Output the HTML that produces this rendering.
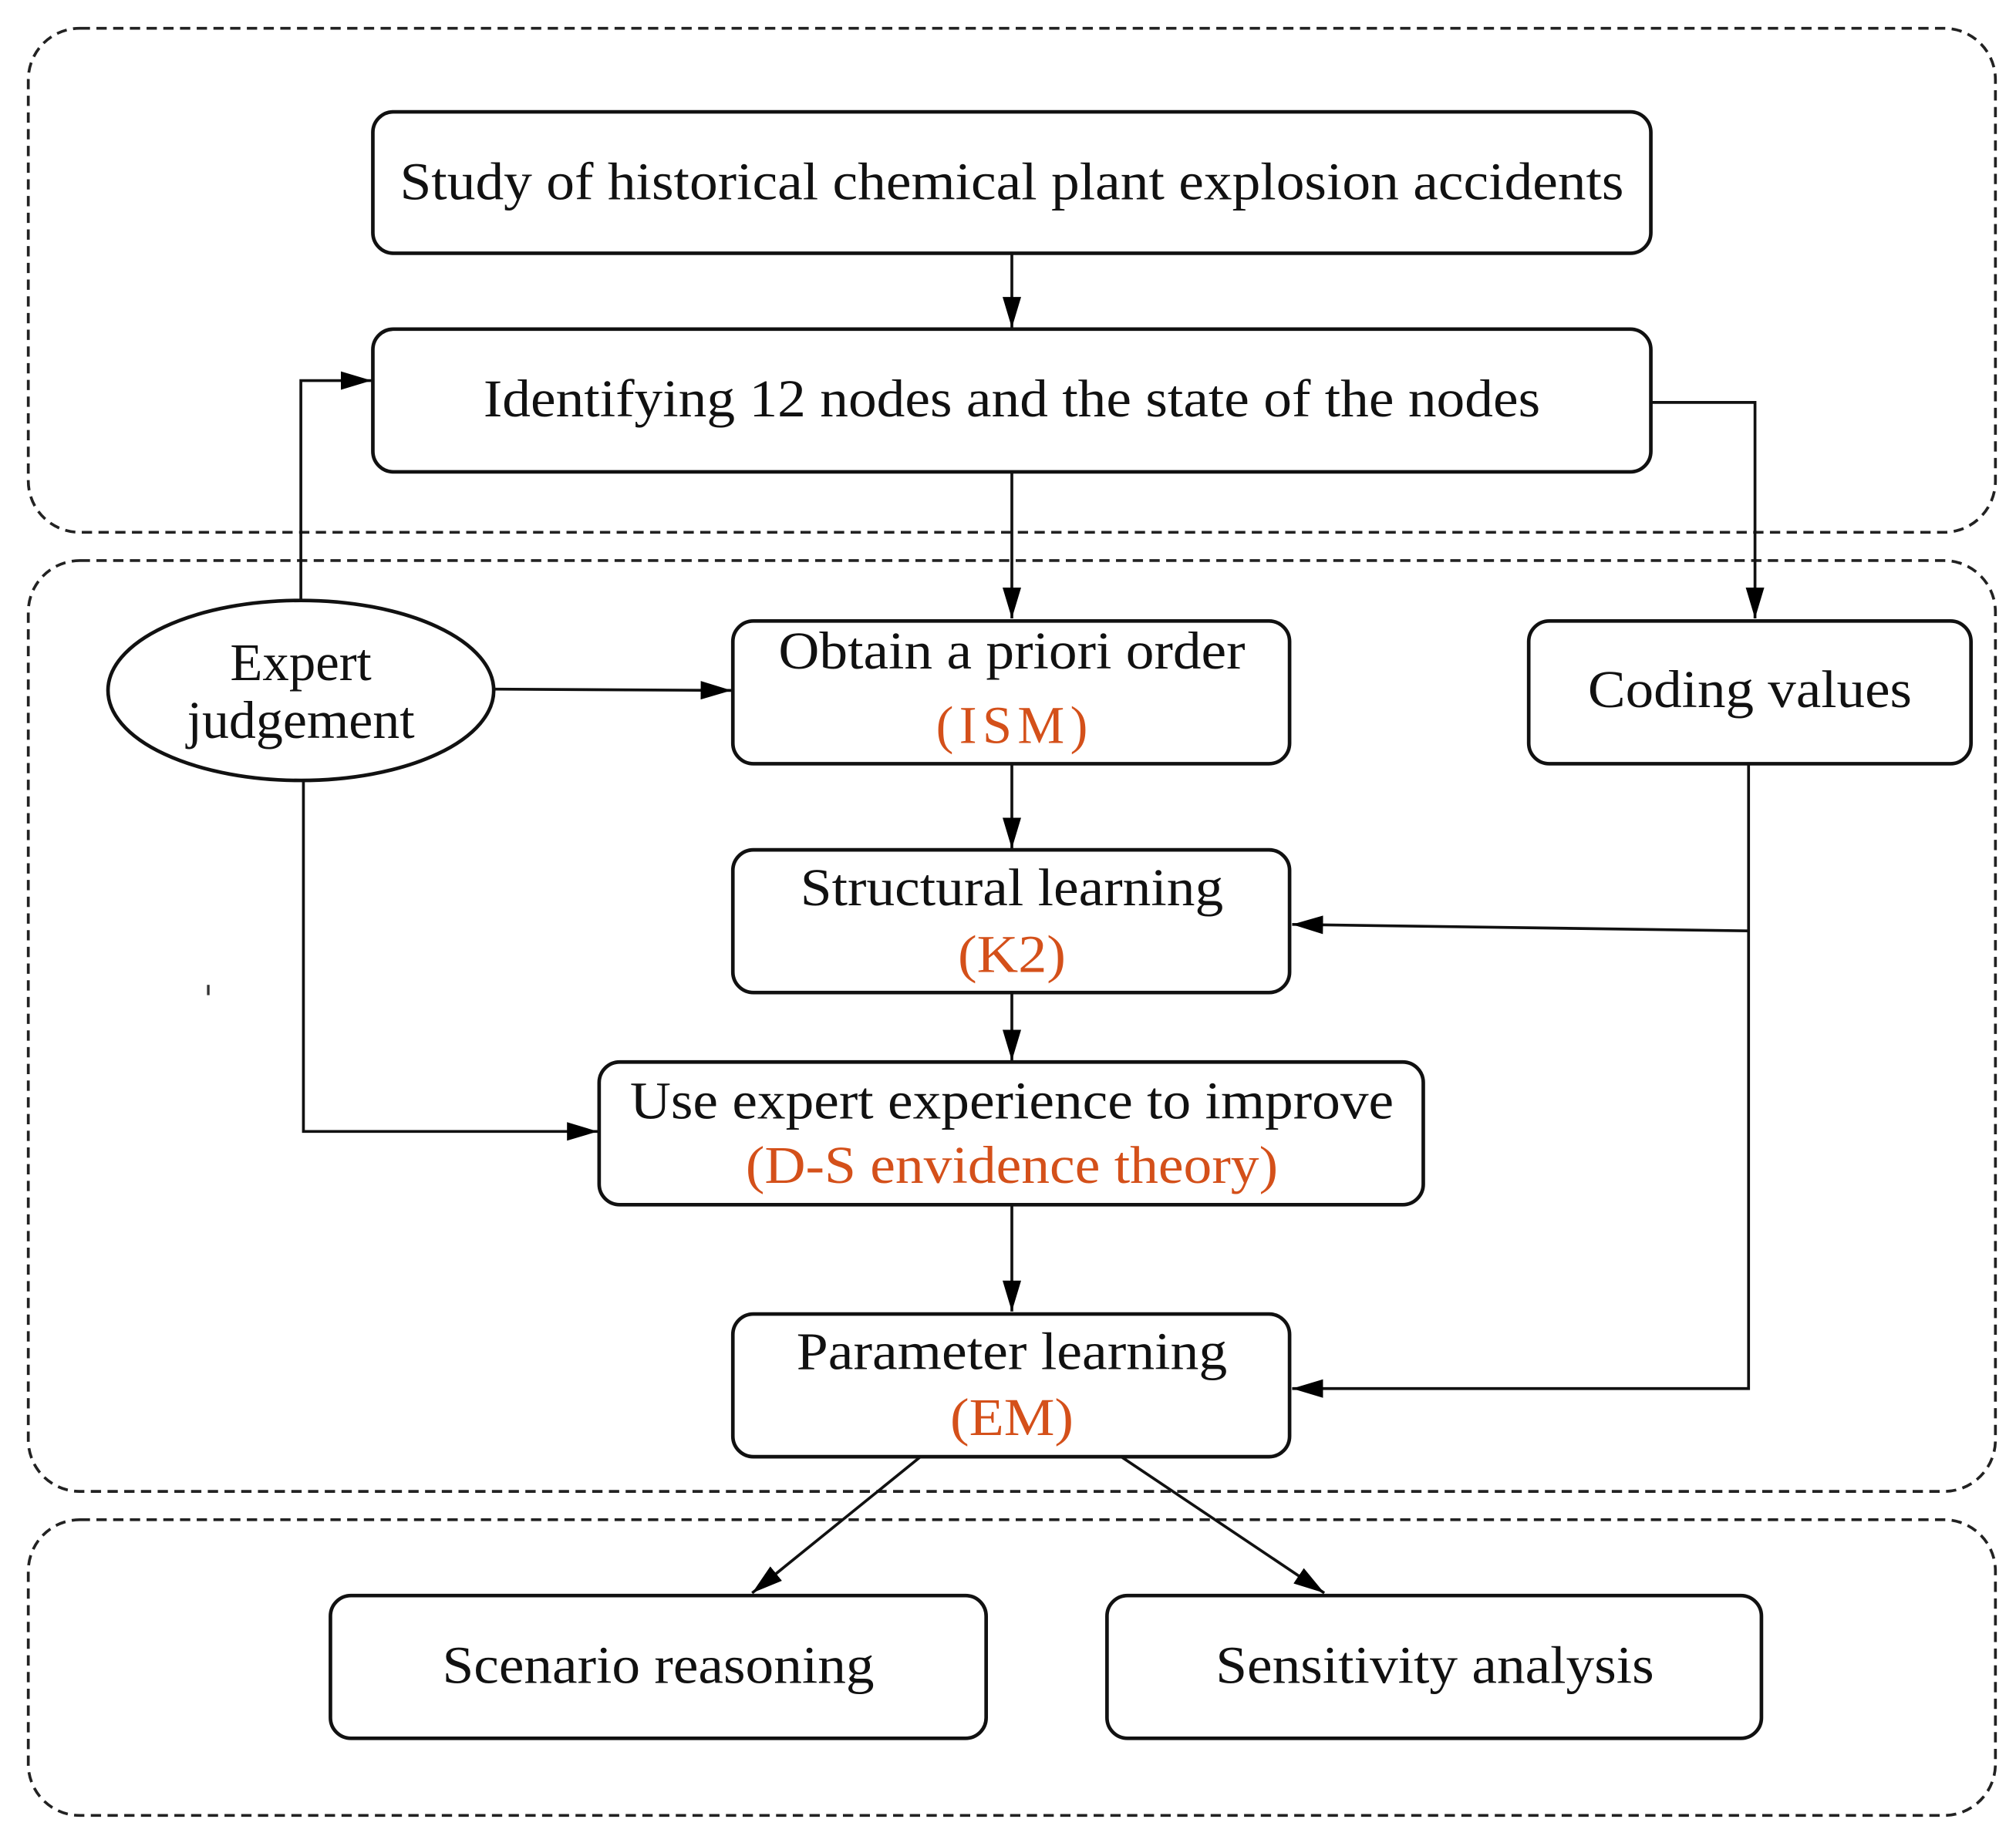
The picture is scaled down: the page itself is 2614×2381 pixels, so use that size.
<!DOCTYPE html>
<html><head><meta charset="utf-8"><style>html,body{margin:0;padding:0;background:#fff}svg{display:block}</style></head>
<body>
<svg width="2614" height="2381" viewBox="0 0 1568 1428" preserveAspectRatio="none" xmlns="http://www.w3.org/2000/svg" font-family="Liberation Serif, serif" font-size="41" text-anchor="middle">
<defs>
<marker id="b" viewBox="0 0 10 10" refX="10" refY="5" markerWidth="24" markerHeight="24" markerUnits="userSpaceOnUse" orient="auto"><path d="M0,2L10,5L0,8z" fill="#000"/></marker></defs>
<g fill="none" stroke="#222" stroke-width="2.2" stroke-dasharray="8,5">
<rect x="22" y="22" width="1530" height="392" rx="40"/>
<rect x="22" y="436" width="1530" height="724" rx="40"/>
<rect x="22" y="1182" width="1530" height="230" rx="40"/>
</g>
<g fill="#fff" stroke="#111" stroke-width="2.8">
<rect x="290" y="87" width="994" height="110" rx="16"/>
<rect x="290" y="256" width="994" height="111" rx="16"/>
<rect x="570" y="483" width="433" height="111" rx="16"/>
<rect x="1189" y="483" width="344" height="111" rx="16"/>
<rect x="570" y="661" width="433" height="111" rx="16"/>
<rect x="466" y="826" width="641" height="111" rx="16"/>
<rect x="570" y="1022" width="433" height="111" rx="16"/>
<rect x="257" y="1241" width="510" height="111" rx="16"/>
<rect x="861" y="1241" width="509" height="111" rx="16"/>
<ellipse cx="234" cy="537" rx="150" ry="70"/>
</g>
<g fill="none" stroke="#111" stroke-width="2.2" marker-end="url(#b)">
<path d="M787 197V255"/>
<path d="M787 367V481"/>
<path d="M787 594V660"/>
<path d="M787 772V825"/>
<path d="M787 937V1020"/>
<path d="M1284 313H1365V481"/>
<path d="M234 467V296H289"/>
<path d="M385 536L569 537"/>
<path d="M236 607V880H465"/>
<path d="M1360 594V1080H1005"/>
<path d="M1360 724L1005 719"/>
<path d="M716 1133L585 1239"/>
<path d="M872 1133L1030 1239"/>
</g>
<rect x="161" y="766" width="2" height="8" fill="#333"/>
<g fill="#111">
<text x="787" y="155" textLength="952" lengthAdjust="spacingAndGlyphs">Study of historical chemical plant explosion accidents</text>
<text x="787" y="324" textLength="822" lengthAdjust="spacingAndGlyphs">Identifying 12 nodes and the state of the nodes</text>
<text x="787" y="520" textLength="363" lengthAdjust="spacingAndGlyphs">Obtain a priori order</text>
<text x="1361" y="550" textLength="252" lengthAdjust="spacingAndGlyphs">Coding values</text>
<text x="234" y="529" textLength="110" lengthAdjust="spacingAndGlyphs">Expert</text>
<text x="234" y="574" textLength="177" lengthAdjust="spacingAndGlyphs">judgement</text>
<text x="787" y="704" textLength="329" lengthAdjust="spacingAndGlyphs">Structural learning</text>
<text x="787" y="870" textLength="594" lengthAdjust="spacingAndGlyphs">Use expert experience to improve</text>
<text x="787" y="1065" textLength="335" lengthAdjust="spacingAndGlyphs">Parameter learning</text>
<text x="512" y="1309" textLength="336" lengthAdjust="spacingAndGlyphs">Scenario reasoning</text>
<text x="1116" y="1309" textLength="341" lengthAdjust="spacingAndGlyphs">Sensitivity analysis</text>
</g>
<g fill="#d4501a">
<text x="787" y="578" textLength="118" lengthAdjust="spacing">(ISM)</text>
<text x="787" y="756" textLength="84" lengthAdjust="spacingAndGlyphs">(K2)</text>
<text x="787" y="920" textLength="414" lengthAdjust="spacingAndGlyphs">(D-S envidence theory)</text>
<text x="787" y="1116" textLength="96" lengthAdjust="spacingAndGlyphs">(EM)</text>
</g>
</svg>
</body></html>
